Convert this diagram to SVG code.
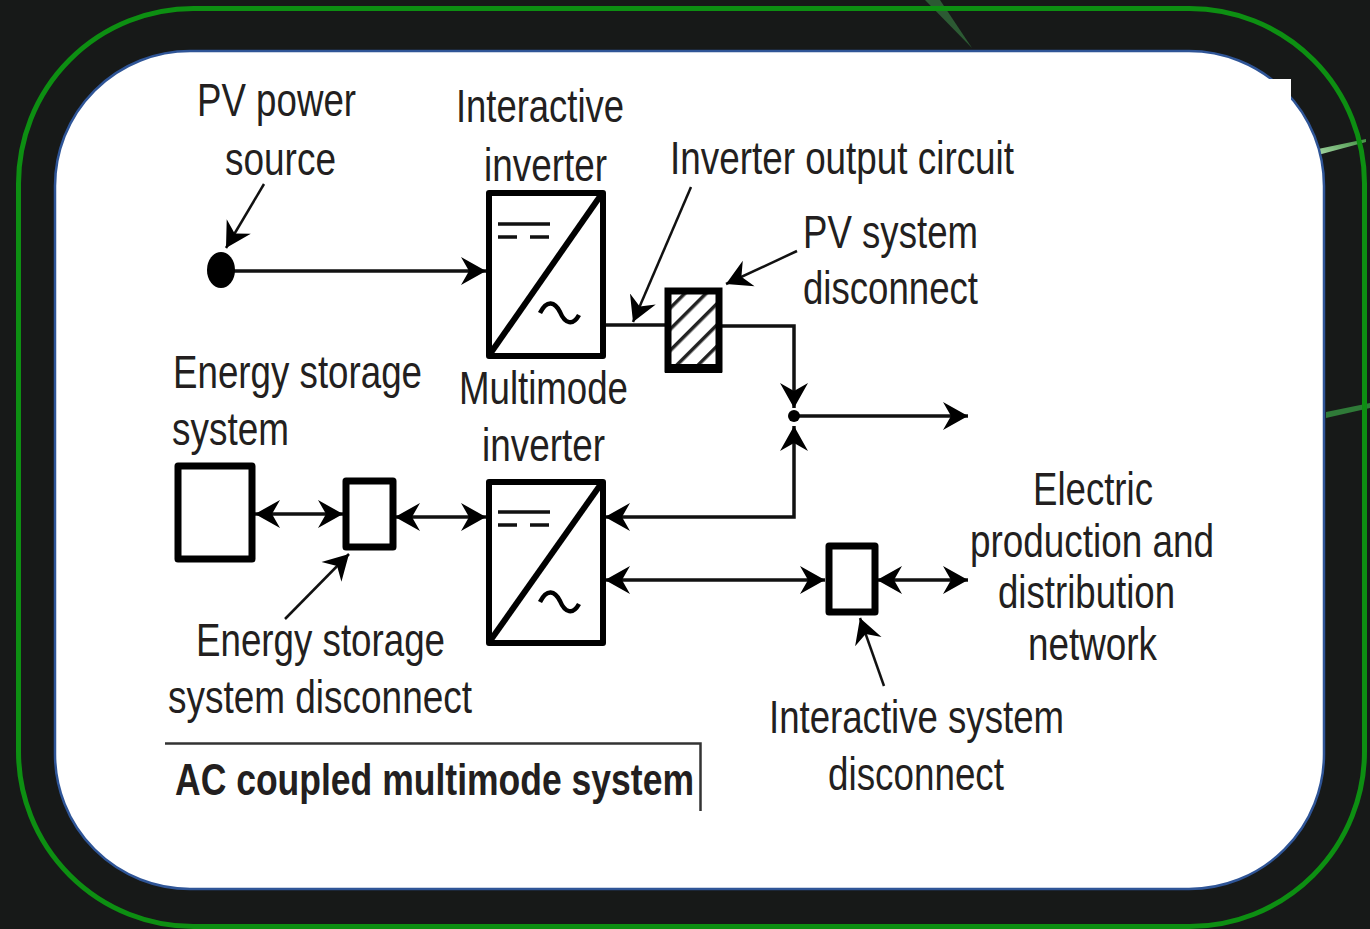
<svg xmlns="http://www.w3.org/2000/svg" width="1370" height="929" viewBox="0 0 1370 929">
<style>
text{font-family:"Liberation Sans",Arial,sans-serif;font-size:46px;fill:#231f20}
.b{font-weight:700;font-size:45px}
.box{fill:#fff;stroke:#000;stroke-linejoin:round}
.w{fill:none;stroke:#111;stroke-width:3.5}
.t{fill:none;stroke:#111;stroke-width:2.5}
.k{fill:none;stroke:#000;stroke-width:6}
</style>
<defs>
<marker id="a" markerUnits="userSpaceOnUse" markerWidth="28" markerHeight="30" refX="25" refY="15" orient="auto-start-reverse"><path d="M0 1L25 15L0 29L8 15Z" fill="#000"/></marker>
<pattern id="h" patternUnits="userSpaceOnUse" width="15" height="15" patternTransform="rotate(-45)"><rect width="15" height="15" fill="#fff"/><rect width="15" height="3.500" fill="#222"/></pattern>
<linearGradient id="s" x1="0" x2="1" y1="1" y2="0"><stop offset="0" stop-color="#a8d8a8"/><stop offset="1" stop-color="#3f8f3f"/></linearGradient>
</defs>
<rect width="1370" height="929" fill="#171918"/>
<polygon points="925,0 940,0 972,48" fill="#2c5a33"/>
<polygon points="1318,149 1366,139 1366,142 1318,155" fill="url(#s)"/>
<polygon points="1326,412 1370,403 1370,408 1326,418" fill="#2f7a38"/>
<rect x="18.500" y="8.500" width="1346" height="918" rx="175" fill="none" stroke="#0d8f12" stroke-width="5"/>
<rect id="panel" x="55" y="51" width="1269" height="838" rx="135" fill="#fff" stroke="#2f5597" stroke-width="2.500"/>
<rect x="1268" y="79" width="23" height="24" fill="#fff"/>

<g id="connectors">
<path class="w" d="M232 271H486" marker-end="url(#a)"/>
<path class="t" d="M264 184L226 248" marker-end="url(#a)"/>
<path class="t" d="M691 187L633 322" marker-end="url(#a)"/>
<path class="t" d="M797 251L726 284" marker-end="url(#a)"/>
<path class="w" d="M603 325H666"/>
<path class="w" d="M720 326H794V408" marker-end="url(#a)"/>
<path class="w" d="M794 416H968" marker-end="url(#a)"/>
<path class="w" d="M794 426V517H605" marker-start="url(#a)" marker-end="url(#a)"/>
<path class="w" d="M255 514H343" marker-start="url(#a)" marker-end="url(#a)"/>
<path class="w" d="M395 517H486" marker-start="url(#a)" marker-end="url(#a)"/>
<path class="w" d="M605 580H825" marker-start="url(#a)" marker-end="url(#a)"/>
<path class="w" d="M877 580H968" marker-start="url(#a)" marker-end="url(#a)"/>
<path class="t" d="M285 619L349 554" marker-end="url(#a)"/>
<path class="t" d="M884 686L860 618" marker-end="url(#a)"/>
<path d="M165 743.500H700.500V811" fill="none" stroke="#333" stroke-width="2.500"/>
</g>

<g id="pv-source"><ellipse cx="221" cy="270" rx="14" ry="18" fill="#000"/></g>
<g id="junction"><circle cx="794" cy="416" r="6" fill="#000"/></g>

<g id="interactive-inverter">
<rect class="box" x="489" y="193" width="114" height="163" stroke-width="6"/>
<path class="k" d="M490 354L601 195"/>
<path class="w" d="M498 224H550M498 237H517M530 237H549"/>
<path d="M540 313C547 299 555 302 560 312C565 324 573 326 579 315" fill="none" stroke="#000" stroke-width="4.500"/>
</g>
<g id="multimode-inverter">
<rect class="box" x="489" y="482" width="114" height="161" stroke-width="6"/>
<path class="k" d="M490 641L601 484"/>
<path class="w" d="M498 512H550M498 525H517M530 525H549"/>
<path d="M540 602C547 588 555 591 560 601C565 613 573 615 579 604" fill="none" stroke="#000" stroke-width="4.500"/>
</g>
<g id="pv-disconnect"><rect x="668" y="291" width="51" height="78" fill="url(#h)" stroke="#000" stroke-width="7"/><rect x="665" y="364" width="57" height="9" fill="#000"/></g>
<g id="storage"><rect class="box" x="178" y="466" width="74" height="93" stroke-width="7"/></g>
<g id="storage-disconnect"><rect class="box" x="346" y="481" width="47" height="66" stroke-width="7"/></g>
<g id="interactive-disconnect"><rect class="box" x="829" y="546" width="46" height="66" stroke-width="7"/></g>

<g id="labels">
<text x="197" y="116" textLength="159" lengthAdjust="spacingAndGlyphs">PV power</text>
<text x="225" y="175" textLength="111" lengthAdjust="spacingAndGlyphs">source</text>
<text x="456" y="122" textLength="168" lengthAdjust="spacingAndGlyphs">Interactive</text>
<text x="484" y="181" textLength="123" lengthAdjust="spacingAndGlyphs">inverter</text>
<text x="670" y="174" textLength="344" lengthAdjust="spacingAndGlyphs">Inverter output circuit</text>
<text x="803" y="248" textLength="175" lengthAdjust="spacingAndGlyphs">PV system</text>
<text x="803" y="304" textLength="175" lengthAdjust="spacingAndGlyphs">disconnect</text>
<text x="173" y="388" textLength="249" lengthAdjust="spacingAndGlyphs">Energy storage</text>
<text x="172" y="445" textLength="117" lengthAdjust="spacingAndGlyphs">system</text>
<text x="459" y="404" textLength="169" lengthAdjust="spacingAndGlyphs">Multimode</text>
<text x="482" y="461" textLength="123" lengthAdjust="spacingAndGlyphs">inverter</text>
<text x="1033" y="505" textLength="120" lengthAdjust="spacingAndGlyphs">Electric</text>
<text x="970" y="557" textLength="244" lengthAdjust="spacingAndGlyphs">production and</text>
<text x="998" y="608" textLength="177" lengthAdjust="spacingAndGlyphs">distribution</text>
<text x="1028" y="660" textLength="129" lengthAdjust="spacingAndGlyphs">network</text>
<text x="196" y="656" textLength="249" lengthAdjust="spacingAndGlyphs">Energy storage</text>
<text x="168" y="713" textLength="304" lengthAdjust="spacingAndGlyphs">system disconnect</text>
<text x="769" y="733" textLength="295" lengthAdjust="spacingAndGlyphs">Interactive system</text>
<text x="828" y="790" textLength="176" lengthAdjust="spacingAndGlyphs">disconnect</text>
<text class="b" x="175" y="795" textLength="519" lengthAdjust="spacingAndGlyphs">AC coupled multimode system</text>
</g>
</svg>
